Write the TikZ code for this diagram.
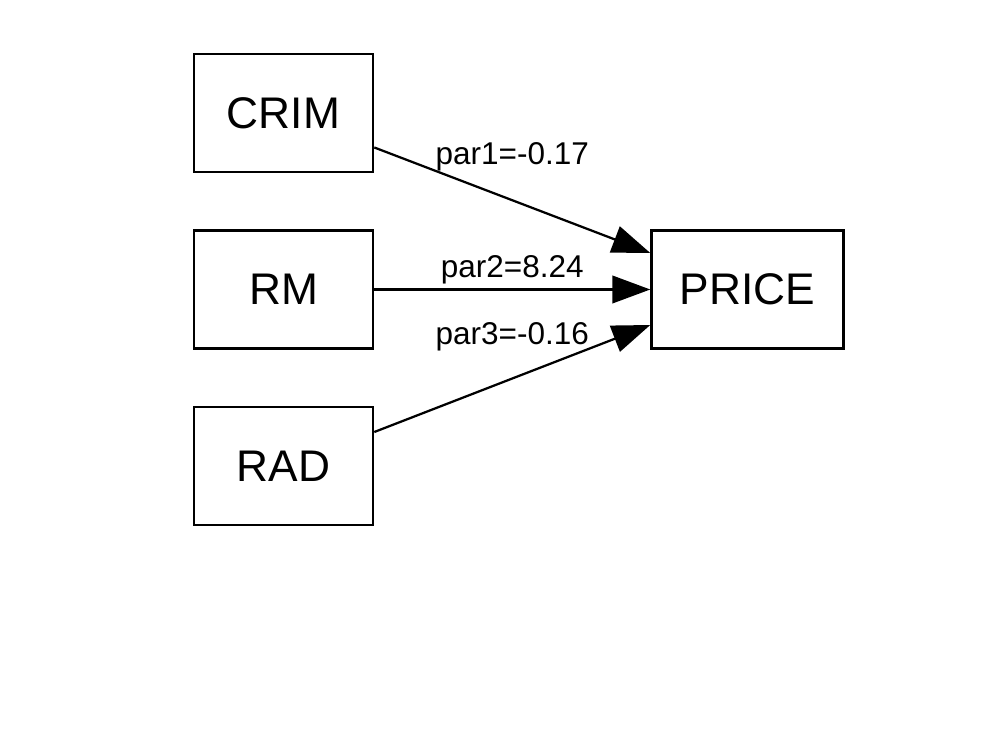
\documentclass[tikz,border=0pt]{standalone}
\usepackage{fontspec}
\setmainfont{Liberation Sans}
\usetikzlibrary{arrows.meta,positioning}

\begin{document}
\begin{tikzpicture}[
    node distance=1.4cm and 6.9cm,
    box/.style={draw, line width=1.8pt, minimum width=4.475cm, minimum height=2.95cm, inner sep=0pt, font=\fontsize{31.5}{36}\selectfont},
    lbl/.style={inner sep=0pt, font=\fontsize{22.4}{26}\selectfont},
    flow/.style={-{Triangle[length=9.5mm,width=6.9mm]}, line width=1.6pt}]
  \useasboundingbox (-7.0875,-11.3625) rectangle (17.9125,7.2375);
  \node[box] (rm) at (0,0) {RM};
  \node[box, above=of rm] (crim) {CRIM};
  \node[box, below=of rm] (rad) {RAD};
  \node[box, minimum width=4.8cm, right=of rm] (price) {PRICE};
  \draw[flow] ([yshift=-0.8625cm]crim.east) -- node[lbl, above=0.7cm]{par1=-0.17} ([yshift=0.9125cm]price.west);
  \draw[flow] (rm.east) -- node[lbl, above=0.1cm]{par2=8.24} (price.west);
  \draw[flow] ([yshift=0.85cm]rad.east) -- node[lbl, above=0.65cm]{par3=-0.16} ([yshift=-0.8875cm]price.west);
\end{tikzpicture}
\end{document}
